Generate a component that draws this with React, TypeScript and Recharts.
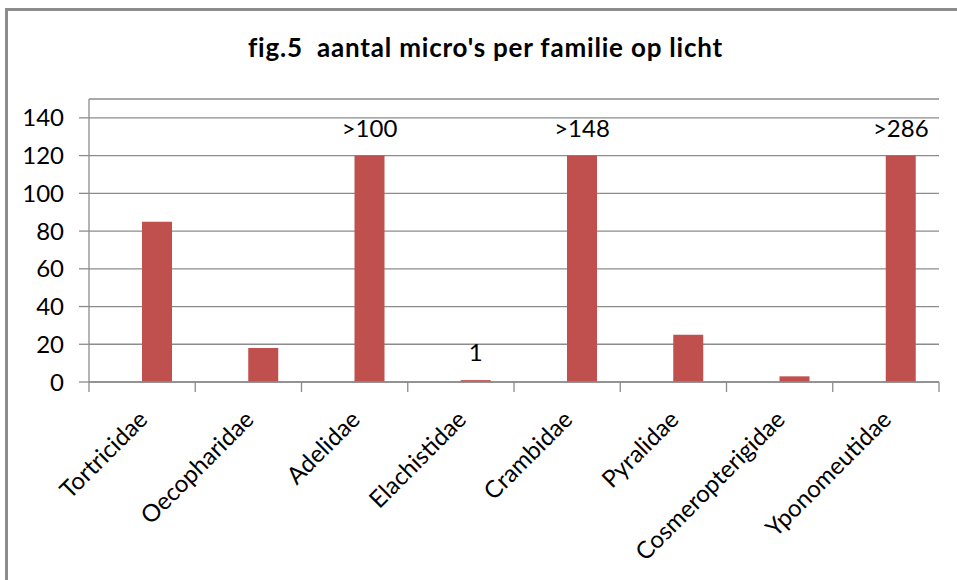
import React from 'react';
import { BarChart, Bar, XAxis, YAxis, CartesianGrid, LabelList } from 'recharts';

const categories = ['Tortricidae', 'Oecopharidae', 'Adelidae', 'Elachistidae', 'Crambidae', 'Pyralidae', 'Cosmeropterigidae', 'Yponomeutidae'];
const counts = [85, 18, 120, 1, 120, 25, 3, 120];
const valueLabels = ['', '', '>100', '1', '>148', '', '', '>286'];
const emptySeries = [null, null, null, null, null, null, null, null];
const yTicks = [0, 20, 40, 60, 80, 100, 120, 140];
const title = "fig.5  aantal micro's per familie op licht";

const data = categories.map((name, i) => ({
  name,
  leeg: emptySeries[i],
  aantal: counts[i],
  label: valueLabels[i],
}));

const FONT = 'Lato, "Open Sans", sans-serif';
const GRID = '#8c8c8c';
const X_TICK_MARGIN = 33;
const X_TICK_LEN = 10;

const XTick = (props: any) => {
  const { x, y, payload, index } = props;
  const half = payload && payload.offset ? payload.offset : 0;
  const axisY = y - X_TICK_MARGIN;
  return (
    <g>
      {index === 0 && (
        <line x1={x - half} x2={x - half} y1={axisY} y2={axisY + X_TICK_LEN} stroke={GRID} strokeWidth={1.3} />
      )}
      <line x1={x + half} x2={x + half} y1={axisY} y2={axisY + X_TICK_LEN} stroke={GRID} strokeWidth={1.3} />
      <text
        x={x + 1}
        y={y}
        transform={`rotate(-45 ${x + 1} ${y})`}
        textAnchor="end"
        dy="0.35em"
        fontFamily={FONT}
        fontSize={24}
        fill="#000"
      >
        {payload.value}
      </text>
    </g>
  );
};

export default function App() {
  return (
    <div style={{ position: 'absolute', left: 0, top: 0, width: 957, height: 580, overflow: 'hidden', background: '#fff' }}>
      <div
        style={{
          position: 'absolute',
          left: 5,
          top: 8,
          width: 1200,
          height: 1200,
          border: `3px solid ${GRID}`,
          boxSizing: 'border-box',
        }}
      />
      <div
        style={{
          position: 'absolute',
          left: 0,
          top: 32,
          width: 971,
          textAlign: 'center',
          fontFamily: FONT,
          fontWeight: 700,
          fontSize: 26,
          letterSpacing: '0.8px',
          lineHeight: '30px',
          color: '#000',
          whiteSpace: 'pre',
        }}
      >
        {title}
      </div>
      <div style={{ position: 'absolute', left: 0, top: 0 }}>
        <BarChart
          width={957}
          height={580}
          data={data}
          margin={{ top: 99, right: 18, bottom: 0, left: 0 }}
          barGap={0}
        >
          <CartesianGrid vertical={false} stroke={GRID} strokeWidth={1.3} />
          <XAxis
            dataKey="name"
            height={198}
            interval={0}
            tickLine={false}
            tickSize={0}
            tickMargin={X_TICK_MARGIN}
            axisLine={{ stroke: GRID, strokeWidth: 1.3 }}
            tick={<XTick />}
          />
          <YAxis
            width={89}
            domain={[0, 150]}
            ticks={yTicks}
            allowDataOverflow
            tickSize={10}
            tickMargin={15}
            axisLine={{ stroke: GRID, strokeWidth: 1.3 }}
            tickLine={{ stroke: GRID, strokeWidth: 1.3 }}
            tick={{ fill: '#000', fontSize: 24, fontFamily: FONT }}
          />
          <Bar dataKey="leeg" barSize={30} fill="#4F81BD" isAnimationActive={false} />
          <Bar dataKey="aantal" barSize={30} fill="#C0504D" isAnimationActive={false}>
            <LabelList dataKey="label" position="top" offset={19} fill="#000" fontSize={24} fontFamily={FONT} />
          </Bar>
        </BarChart>
      </div>
    </div>
  );
}
